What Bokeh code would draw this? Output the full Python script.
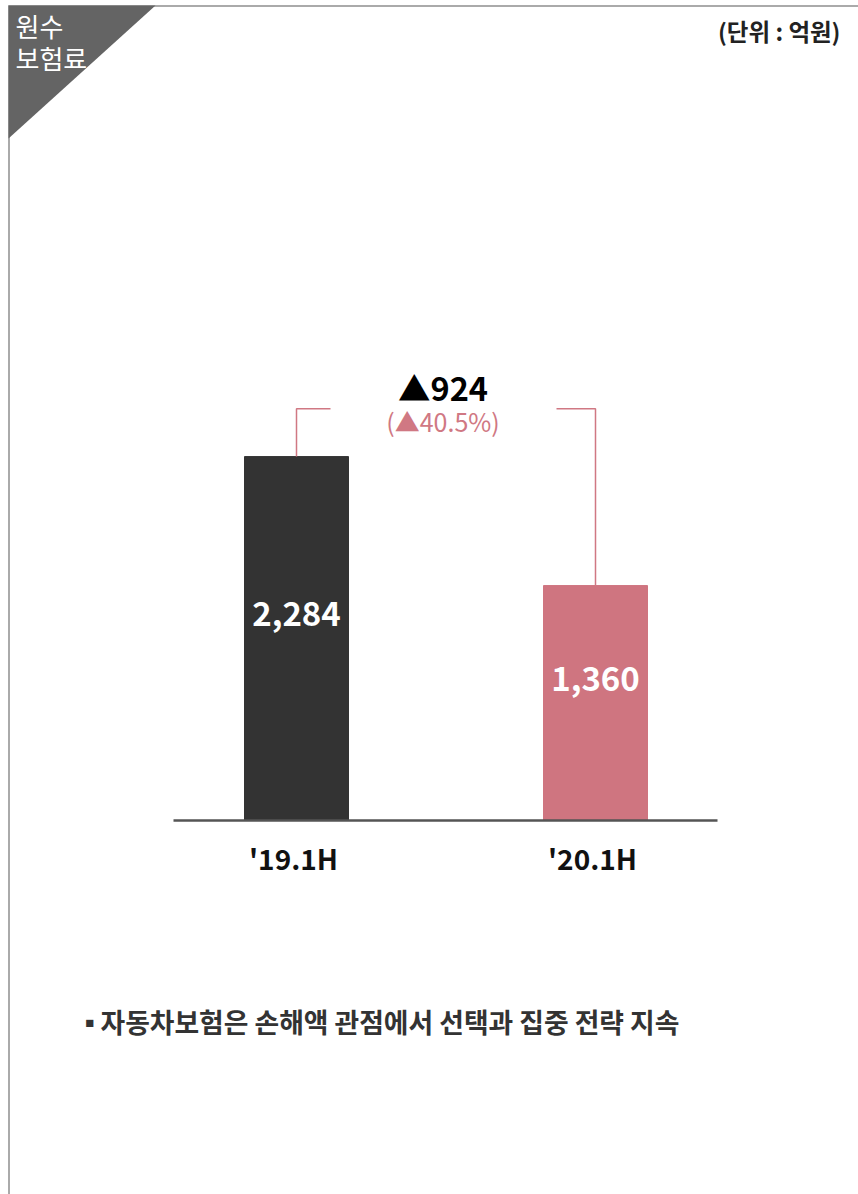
from bokeh.plotting import figure
from bokeh.models import Range1d, ColumnDataSource
from bokeh.core.properties import value
from bokeh.embed import file_html
from bokeh.resources import INLINE

# ---- data ----
categories = ["'19.1H", "'20.1H"]
premiums = [2284, 1360]
bar_colors = ["#333333", "#cf7580"]
title_lines = ["원수", "보험료"]
unit_text = "(단위 : 억원)"
note_bullet = "▪"
note_text = "자동차보험은 손해액 관점에서 선택과 집중 전략 지속"

diff = premiums[0] - premiums[1]
pct = diff / premiums[0] * 100
diff_text = f"▲{diff:,}"
pct_text = f"(▲{pct:.1f}%)"

# ---- layout constants (canvas pixels -> data) ----
FIG_W, FIG_H = 858, 1194
X0_PX, XSTEP = 296, 299            # canvas x of first category, spacing
BASE_PX, K = 820, 0.1396           # baseline canvas y, px per value unit
BASE_VAL = -323                    # value at baseline

def vx(px):
    return (px - X0_PX) / XSTEP

def vy(py):
    return BASE_VAL + (BASE_PX - py) / K

FONT = value("Noto Sans CJK KR")
PINK = "#d07883"

p = figure(width=FIG_W, height=FIG_H, output_backend="svg", toolbar_location=None,
           x_range=Range1d(vx(0), vx(FIG_W)), y_range=Range1d(vy(FIG_H), vy(0)),
           min_border=0, x_axis_location=None, y_axis_location=None,
           outline_line_color=None, background_fill_color="white")
p.xgrid.visible = False
p.ygrid.visible = False

# frame border (top and left) and corner tab
p.line([vx(8), vx(858)], [vy(5.5), vy(5.5)], line_color="#aaaaaa", line_width=2)
p.line([vx(8.5), vx(8.5)], [vy(5), vy(1194)], line_color="#aaaaaa", line_width=2)
p.patch([vx(8), vx(155), vx(8)], [vy(5), vy(5), vy(138)], fill_color="#646464", line_color=None)
p.text(x=[vx(15), vx(15)], y=[vy(25), vy(57)], text=title_lines, text_color="white",
       text_font=FONT, text_font_size="26px", text_baseline="middle", text_align="left")
p.text(x=[vx(840)], y=[vy(30)], text=[unit_text], text_color="#222222", text_font=FONT,
       text_font_size="23.5px", text_font_style="bold", text_baseline="middle", text_align="right")

# bars
idx = list(range(len(categories)))
src = ColumnDataSource(dict(x=idx, top=premiums, color=bar_colors,
                            label=[f"{v:,}" for v in premiums],
                            label_y=[(v + BASE_VAL) / 2 + 25 / K for v in premiums],
                            cat=categories))
p.vbar(x="x", top="top", bottom=BASE_VAL, width=104 / XSTEP, color="color", source=src)
p.text(x="x", y="label_y", text="label", source=src, text_color="white", text_font=FONT,
       text_font_size="33px", text_font_style="bold", text_align="center", text_baseline="middle")

# baseline
p.line([vx(173), vx(717)], [BASE_VAL, BASE_VAL], line_color="#555555", line_width=2.5)

# category labels
p.text(x="x", y=vy(857), text="cat", source=src, text_color="#111111", text_font=FONT,
       text_font_size="28px", text_font_style="bold", text_align="center", text_baseline="middle",
       x_offset=-3)

# change bracket
top_y = max(premiums) * 1.15
p.multi_line(xs=[[0, 0, vx(330)], [vx(556), 1, 1]],
             ys=[[premiums[0], top_y, top_y], [top_y, top_y, premiums[1]]],
             line_color=PINK, line_width=1.5)
p.text(x=[0.49], y=[vy(386)], text=[diff_text], text_color="#000000", text_font=FONT,
       text_font_size="32.5px", text_font_style="bold", text_align="center", text_baseline="middle")
p.text(x=[0.49], y=[vy(420)], text=[pct_text], text_color=PINK, text_font=FONT,
       text_font_size="25px", text_align="center", text_baseline="middle")

# footnote
p.text(x=[vx(76)], y=[vy(1021)], text=[note_bullet], text_color="#333333", text_font=FONT,
       text_font_size="26.5px", text_font_style="bold", text_align="left", text_baseline="middle")
p.text(x=[vx(100)], y=[vy(1021)], text=[note_text], text_color="#333333", text_font=FONT,
       text_font_size="26.8px", text_font_style="bold", text_align="left", text_baseline="middle")

open("out.html", "w").write(file_html(p, INLINE))
